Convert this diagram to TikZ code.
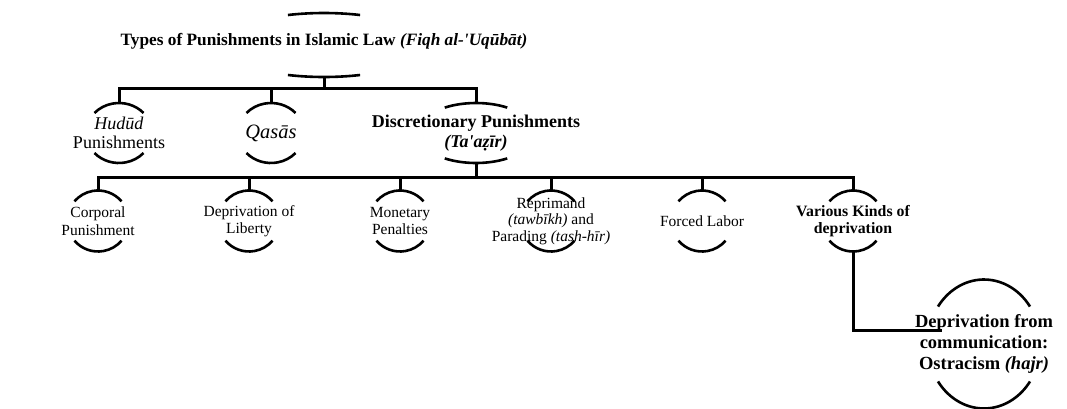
\documentclass[tikz,border=0pt]{standalone}
\usepackage{fontspec}
\setmainfont{Liberation Serif}
\usetikzlibrary{calc}
\begin{document}
\begin{tikzpicture}[x=1pt,y=-1pt,
  conn/.style={line width=3pt},
  brk/.style={line width=2.6pt},
  box/.style={inner sep=0pt, align=center, minimum height=#1},
  lone/.style={font=\fontsize{18}{19}\selectfont},
  lonebf/.style={font=\fontsize{18}{20}\selectfont\bfseries},
  ltwo/.style={font=\fontsize{15.5}{17.5}\selectfont},
  ltwobf/.style={font=\fontsize{15.8}{17.5}\selectfont\bfseries},
]
\useasboundingbox (0,0) rectangle (1067,408);

% root
\node[inner sep=0pt, minimum height=64pt, text height=12pt, text depth=12pt,
      font=\fontsize{17.3}{20}\selectfont\bfseries] (root) at (324,45)
  {Types of Punishments in Islamic Law \textit{(Fiqh al-\textquotesingle Uqūbāt)}};

% first level
\node[box=60pt, lone] (hud) at (119,133) {\textit{Hudūd}\\Punishments};
\node[box=60pt, font=\fontsize{20.4}{22}\selectfont\itshape] (qas) at (271,133) {Qasās};
\node[box=60pt, lonebf] (disc) at (476,133)
  {Discretionary Punishments\\\textit{(Ta\textquotesingle a\d{z}īr)}};

% second level
\node[box=61pt, ltwo] (cor) at (98,221) {Corporal\\Punishment};
\node[box=61pt, ltwo] (lib) at (249,221) {Deprivation of\\Liberty};
\node[box=61pt, ltwo] (mon) at (400,221) {Monetary\\Penalties};
\node[box=61pt, ltwo, font=\fontsize{15.5}{16.5}\selectfont] (rep) at (551,221)
  {Reprimand\\\textit{(tawbīkh)} and\\Parading \textit{(tash-hīr)}};
\node[box=61pt, ltwo] (lab) at (702,221) {Forced Labor};
\node[box=61pt, ltwobf] (var) at (853,221) {Various Kinds of\\deprivation};

% third level
\node[box=129pt, font=\fontsize{18.5}{21}\selectfont\bfseries] (dep) at (984,344)
  {Deprivation from\\communication:\\Ostracism \textit{(hajr)}};

% bracket arcs above and below each label
\foreach \n/\a/\b/\t in {root/103.5/32/69.6, hud/32.9/30/41.8, qas/32.9/30/41.8,
    disc/58.8/30/57.9, cor/30.8/30.5/40.2, lib/30.8/30.5/40.2, mon/30.8/30.5/40.2,
    rep/30.8/30.5/40.2, lab/30.8/30.5/40.2, var/30.8/30.5/40.2, dep/56.5/64.5/35.5}
{
  \draw[brk] ([shift={({\a*cos(\t)*1pt},{\b*sin(\t)*1pt})}]\n.center)
    arc[start angle=\t, end angle=180-\t, x radius=\a pt, y radius=\b pt];
  \draw[brk] ([shift={({-\a*cos(\t)*1pt},{-\b*sin(\t)*1pt})}]\n.center)
    arc[start angle=180+\t, end angle=360-\t, x radius=\a pt, y radius=\b pt];
}

% connectors
\foreach \c in {hud,qas,disc}
  \draw[conn] (root.south) -- ++(0,11) -| (\c.north);
\foreach \c in {cor,lib,mon,rep,lab,var}
  \draw[conn] (disc.south) -- ++(0,14) -| (\c.north);
\draw[conn] (var.south) |- ($(dep.center)+(-42,-14)$);
\end{tikzpicture}
\end{document}
